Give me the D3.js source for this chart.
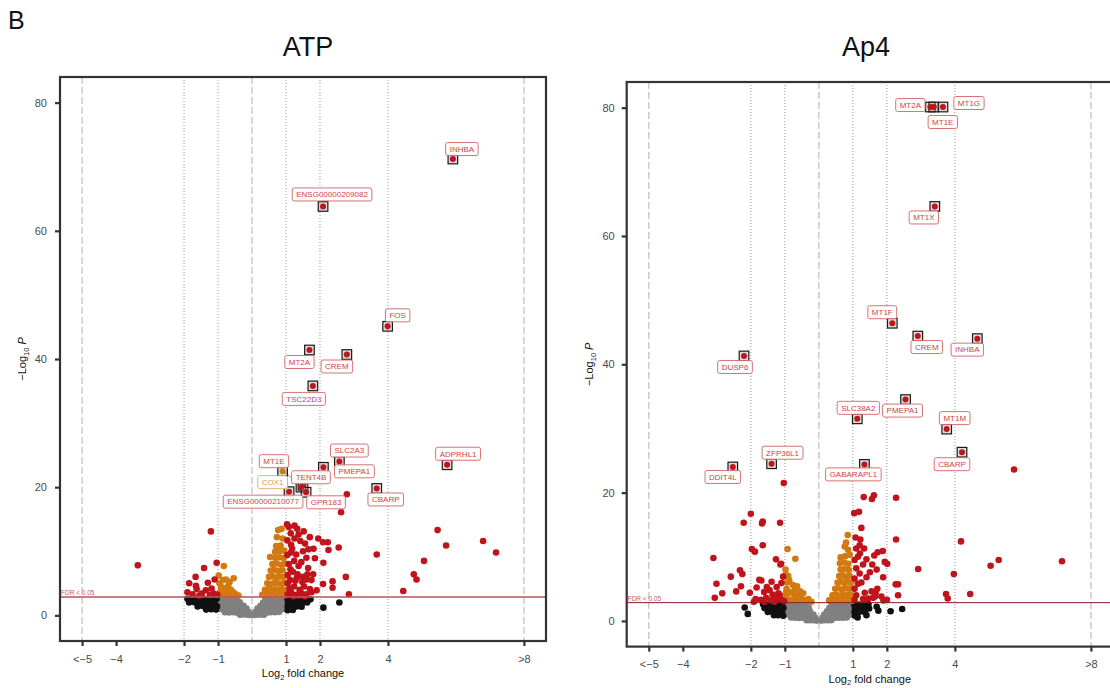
<!DOCTYPE html>
<html>
<head>
<meta charset="utf-8">
<script src="https://cdn.jsdelivr.net/npm/d3@7"></script>
<style>
  html, body { margin: 0; padding: 0; background: #fff; }
  svg { display: block; font-family: "Liberation Sans", Arial, Helvetica, sans-serif; }
</style>
</head>
<body>
<svg id="fig" width="1110" height="688"></svg>
<script>
// ---------- thresholds & axis ticks ----------
const fdrCutoff = 2.85;          // -log10 adjusted p at FDR 0.05
const fcCutoff = 1;              // |log2 FC|
const xTickValues = [-5, -4, -2, -1, 1, 2, 4, 8];
const xTickLabels = ["<\u22125", "\u22124", "\u22122", "\u22121", "1", "2", "4", ">8"];
const yTickValues = [0, 20, 40, 60, 80];
const xDomain = [-5.65, 8.65];
const yDomain = [-4, 84];

// ---------- ATP: unlabelled genes [log2FC, -log10 P] ----------
const atpPoints = [
  [-0.35,0.1],[-0.25,0.15],[-0.15,0.1],[-0.07,0.05],[0.07,0.05],[0.15,0.1],[0.25,0.12],[0.35,0.1],
  [-0.8,0.5],[-0.68,0.45],[-0.56,0.5],[-0.44,0.4],[-0.32,0.5],[-0.2,0.45],[-0.1,0.5],[0.1,0.5],[0.2,0.45],[0.32,0.5],[0.44,0.42],[0.56,0.5],[0.68,0.48],[0.8,0.55],
  [-0.97,1],[-0.85,0.95],[-0.72,1],[-0.6,1.05],[-0.48,1],[-0.36,0.95],[-0.24,1],[-0.16,1.05],[0.16,1.05],[0.24,1],[0.36,0.95],[0.48,1],[0.6,1.05],[0.72,1],[0.85,0.95],[0.97,1],
  [-0.97,1.5],[-0.85,1.55],[-0.72,1.5],[-0.6,1.45],[-0.48,1.5],[-0.36,1.55],[-0.25,1.5],[0.25,1.5],[0.36,1.45],[0.48,1.5],[0.6,1.55],[0.72,1.5],[0.85,1.45],[0.97,1.5],
  [-0.97,2],[-0.85,2.05],[-0.72,2],[-0.6,1.95],[-0.48,2],[-0.36,2.05],[0.33,2],[0.44,1.95],[0.56,2],[0.68,2.05],[0.8,2],[0.92,1.95],
  [-0.95,2.5],[-0.82,2.55],[-0.7,2.5],[-0.58,2.45],[-0.46,2.5],[0.4,2.5],[0.52,2.55],[0.64,2.5],[0.76,2.45],[0.88,2.5],[0.98,2.55],
  [-1.9,2.6],[-1.75,2.55],[-1.6,2.6],[-1.45,2.65],[-1.3,2.6],[-1.15,2.55],[-1.04,2.6],
  [-1.85,2.0],[-1.7,2.05],[-1.55,2.0],[-1.4,1.95],[-1.25,2.0],[-1.1,2.05],
  [-1.6,1.4],[-1.45,1.45],[-1.3,1.4],[-1.15,1.35],[-1.03,1.4],
  [-1.35,0.9],[-1.2,0.95],[-1.06,0.9],
  [1.04,2.6],[1.18,2.55],[1.32,2.6],[1.46,2.65],[1.6,2.6],[1.72,2.5],
  [1.06,2.0],[1.2,2.05],[1.34,2.0],[1.48,1.95],[1.62,2.0],
  [1.05,1.4],[1.18,1.45],[1.32,1.4],[1.46,1.35],
  [1.05,0.8],[1.2,0.85],[2.1,1.2],[2.57,2.0],
  [-0.83,7.7],[-0.77,5.6],[-0.54,5.8],[-0.96,5.0],[-0.9,4.4],[-0.8,4.2],[-0.7,4.6],[-0.62,4.0],[-0.55,3.6],[-0.48,3.3],
  [-0.95,3.4],[-0.85,3.2],[-0.75,3.5],[-0.68,3.2],[-0.6,3.1],[-0.92,3.9],[-0.66,5.2],[-0.72,3.9],[-0.4,3.1],[-0.85,5.5],[-0.98,6.2],
  [0.3,3.2],[0.4,3.15],[0.5,3.25],[0.6,3.2],[0.7,3.1],[0.8,3.25],[0.9,3.2],[0.97,3.15],
  [0.38,4],[0.48,4.1],[0.58,3.9],[0.68,4.05],[0.78,4],[0.88,4.1],[0.96,3.95],
  [0.45,5],[0.55,4.9],[0.65,5.1],[0.75,5],[0.85,4.95],[0.95,5.1],
  [0.5,6],[0.6,6.1],[0.7,5.9],[0.8,6.05],[0.92,6],
  [0.55,7],[0.66,7.1],[0.78,6.9],[0.9,7.05],
  [0.6,8],[0.72,8.1],[0.85,7.9],[0.96,8.05],
  [0.53,9.1],[0.68,9],[0.8,9.05],[0.93,8.95],
  [0.68,9.9],[0.82,10],[0.95,10.1],
  [0.71,10.8],[0.84,10.9],[0.73,12.2],[0.9,12],[0.77,13.3],[0.87,13.5],
  [1.03,14.2],[1.33,13.5],[1.52,13.1],[1.14,12.8],[1.37,12.6],[1.08,13.8],[1.25,14.0],
  [5.46,13.3],[5.71,10.9],[6.8,11.6],[7.18,9.8],[3.67,9.5],
  [2.09,11.4],[2.23,11.4],[2.55,10.6],[2.25,10.2],[1.56,11.2],[1.66,10.3],[1.81,10.4],
  [1.04,11.7],[1.18,10.4],[1.04,9.4],[1.6,9.0],[1.85,8.9],[1.24,8.5],[1.65,7.4],[1.37,7.7],[2.1,8.2],
  [1.13,7.2],[1.34,6.4],[1.63,6.4],[2.76,6.0],[4.76,6.4],[4.84,5.6],[5.06,8.5],[2.37,5.3],[2.37,4.3],
  [2.09,4.9],[1.53,4.5],[1.24,4.5],[2.85,3.3],[4.45,3.8],[1.12,5.5],
  [1.05,3.3],[1.15,3.6],[1.3,3.2],[1.45,3.5],[1.6,3.3],[1.75,3.6],[1.1,4.2],[1.4,4.0],[1.7,4.1],[1.9,3.9],
  [1.05,5.0],[1.28,5.4],[1.48,5.2],[1.75,5.5],[1.05,6.3],[1.2,6.8],[1.5,6.0],[1.8,6.4],[1.08,8.0],[1.45,8.3],
  [1.3,9.5],[1.5,10.0],[1.15,11.0],[2.79,18.9],[2.62,16.1],
  [1.22,3.0],[1.38,3.1],[1.55,3.0],[1.15,9.8],[1.25,12.0],[1.42,11.6],[1.7,12.2],[1.95,12.0],[1.32,5.9],[1.6,5.6],
  [-1.21,13.1],[-3.36,7.8],[-1.04,8.2],[-1.41,7.4],[-1.85,5.0],[-1.65,4.6],[-1.63,4.1],[-1.3,5.1],[-1.36,3.9],
  [-1.19,4.2],[-1.12,3.4],[-1.48,3.4],[-1.02,3.2],[-1.24,3.2],[-1.55,3.1],[-1.75,3.3],[-1.9,3.6],[-1.1,5.6],[-1.66,6.0]
];

// ---------- ATP: labelled genes ----------
const atpGenes = ["INHBA","ENSG00000209082","FOS","MT2A","CREM","TSC22D3","SLC2A3","PMEPA1",
                  "ADPRHL1","CBARP","COX1","MT1E","TENT4B","GPR183","ENSG00000210077"];
const atpGeneFC = [5.91, 2.09, 3.99, 1.69, 2.79, 1.79, 2.57, 2.10, 5.74, 3.67, 0.90, 1.44, 1.50, 1.59, 1.09];
const atpGeneP  = [71.2, 63.8, 45.1, 41.4, 40.7, 35.8, 24.0, 23.1, 23.5, 19.8, 22.5, 20.0, 20.3, 19.2, 19.3];

// ---------- Ap4: unlabelled genes ----------
const ap4Points = [
  [-0.36,0.1],[-0.26,0.12],[-0.16,0.1],[-0.07,0.05],[0.07,0.05],[0.16,0.1],[0.26,0.12],[0.36,0.1],
  [-0.82,0.55],[-0.7,0.5],[-0.58,0.45],[-0.46,0.5],[-0.34,0.45],[-0.22,0.5],[-0.11,0.5],[0.11,0.5],[0.22,0.45],[0.34,0.5],[0.46,0.45],[0.58,0.5],[0.7,0.5],[0.82,0.55],
  [-0.97,1],[-0.85,1.05],[-0.73,1],[-0.61,0.95],[-0.49,1],[-0.37,1.05],[-0.25,1],[-0.16,1],[0.16,1],[0.25,1.05],[0.37,1],[0.49,0.95],[0.61,1],[0.73,1.05],[0.85,1],[0.97,0.95],
  [-0.97,1.5],[-0.85,1.45],[-0.73,1.5],[-0.61,1.55],[-0.49,1.5],[-0.37,1.45],[-0.26,1.5],[0.24,1.5],[0.35,1.55],[0.47,1.5],[0.59,1.45],[0.71,1.5],[0.84,1.55],[0.96,1.5],
  [-0.97,2],[-0.86,1.95],[-0.74,2],[-0.62,2.05],[-0.5,2],[-0.38,1.95],[-0.3,2.1],[0.31,2],[0.42,2.05],[0.54,2],[0.66,1.95],[0.78,2],[0.9,2.05],
  [-0.96,2.5],[-0.84,2.45],[-0.72,2.5],[-0.6,2.55],[-0.48,2.5],[-0.38,2.55],[0.38,2.5],[0.5,2.45],[0.62,2.5],[0.74,2.55],[0.86,2.5],[0.97,2.45],
  [-1.64,2.6],[-1.5,2.55],[-1.36,2.6],[-1.22,2.65],[-1.08,2.6],
  [-1.6,2.0],[-1.46,2.05],[-1.32,2.0],[-1.18,1.95],[-1.04,2.0],
  [-1.5,1.4],[-1.36,1.45],[-1.22,1.4],[-1.08,1.35],[-1.2,0.9],[-1.05,0.8],
  [-2.18,2.1],[-2.09,1.1],[-1.32,0.9],
  [1.04,2.6],[1.18,2.55],[1.32,2.6],[1.46,2.65],
  [1.06,2.0],[1.2,2.05],[1.34,2.0],[1.48,1.95],
  [1.05,1.4],[1.2,1.45],[1.35,1.4],[1.06,0.8],[1.14,0.55],
  [1.7,2.2],[1.75,1.6],[2.11,1.5],[2.45,1.85],[1.4,0.9],
  [-0.92,11.2],[-0.69,9.7],[-0.98,8.0],[-0.97,7.2],[-0.87,6.3],[-0.76,5.6],[-0.64,5.4],[-0.46,4.3],[-0.31,3.4],
  [-0.95,5.0],[-0.85,4.5],[-0.75,4.2],[-0.6,4.0],[-0.52,3.5],[-0.22,3.0],[-0.95,3.8],[-0.88,3.3],[-0.78,3.2],
  [-0.68,3.4],[-0.58,3.2],[-0.42,3.2],[-0.97,4.4],[-0.9,7.0],[-0.55,4.6],[-0.93,6.0],[-0.7,4.9],
  [0.3,3.2],[0.4,3.1],[0.5,3.25],[0.6,3.2],[0.7,3.15],[0.8,3.2],[0.9,3.25],[0.97,3.1],
  [0.4,4],[0.5,4.1],[0.6,3.95],[0.7,4.05],[0.8,4],[0.9,4.1],[0.97,3.95],
  [0.48,5],[0.58,5.1],[0.68,4.9],[0.78,5.05],[0.88,5],[0.96,5.1],
  [0.55,6],[0.65,6.1],[0.75,5.9],[0.85,6.05],[0.95,6],
  [0.6,7],[0.7,7.1],[0.8,6.9],[0.9,7.05],
  [0.64,8],[0.76,8.1],[0.88,7.95],
  [0.62,9],[0.75,9.1],[0.87,8.9],
  [0.64,9.9],[0.78,10.1],[0.91,10.3],[0.76,11.6],[0.86,11.1],[0.8,12.2],[0.85,13.4],
  [5.74,23.6],[1.32,19.3],[1.62,19.6],[1.56,19.0],[2.27,19.2],[1.04,16.8],[1.18,17.0],[1.25,14.5],
  [1.22,12.7],[2.27,12.7],[4.18,12.4],[1.2,11.8],[1.33,11.3],[1.73,10.7],[1.63,10.2],[1.21,10.5],
  [1.94,9.2],[2.01,8.9],[2.92,8.1],[5.05,8.6],[5.29,9.5],[7.15,9.3],[3.97,7.3],[1.30,8.8],[1.57,8.8],
  [1.89,6.8],[2.26,5.7],[2.33,5.7],[2.33,4.0],[3.74,4.2],[3.79,3.5],[4.45,4.2],[1.72,5.0],
  [1.05,3.3],[1.1,4.0],[1.05,5.0],[1.15,5.8],[1.05,6.6],[1.2,7.4],[1.1,8.2],[1.05,9.5],[1.15,10.0],
  [1.3,3.4],[1.45,3.5],[1.6,3.6],[1.84,3.8],[1.65,3.8],[1.67,4.3],[1.35,4.4],[1.55,4.6],[1.25,6.0],
  [1.4,6.8],[1.5,7.6],[1.1,11.3],[1.08,13.0],[1.4,9.6],[1.9,3.2],[2.0,3.3],[1.7,8.0],[1.88,10.9],
  [-2.0,16.7],[-2.21,15.3],[-1.65,15.5],[-1.67,15.2],[-1.14,15.3],[-1.03,21.5],[-3.10,9.8],[-1.97,11.2],
  [-1.88,10.8],[-1.65,11.8],[-1.26,9.6],[-1.11,8.9],[-2.32,7.9],[-2.25,7.3],[-2.59,6.9],[-3.01,5.8],
  [-2.84,4.3],[-3.06,3.6],[-2.43,4.6],[-2.29,5.4],[-1.83,5.2],[-1.75,6.4],[-2.03,4.4],[-1.91,3.0],
  [-1.05,6.9],[-1.13,8.8],[-1.69,6.3],[-1.39,6.1],[-1.53,5.3],[-1.61,4.5],[-1.36,4.1],[-1.24,5.3],
  [-1.19,4.3],[-1.10,5.9],[-1.15,4.0],[-1.86,3.4],[-1.7,3.3],[-1.55,3.6],[-1.4,3.2],[-1.25,3.5],
  [-1.1,3.3],[-1.02,3.1],[-1.45,4.8],[-1.3,3.0],[-1.6,3.0]
];

// ---------- Ap4: labelled genes ----------
const ap4Genes = ["MT2A","MT1E","MT1G","MT1X","MT1F","CREM","INHBA","DUSP6","PMEPA1",
                  "SLC38A2","MT1M","CBARP","ZFP36L1","DDIT4L","GABARAPL1"];
const ap4GeneFC = [3.28, 3.38, 3.65, 3.41, 2.16, 2.91, 4.66, -2.20, 2.55, 1.13, 3.76, 4.21, -1.39, -2.53, 1.34];
const ap4GeneP  = [80.1, 80.1, 80.1, 64.6, 46.4, 44.4, 44.0, 41.3, 34.5, 31.5, 29.9, 26.3, 24.5, 24.0, 24.4];

// ---------- label placement (pixel offsets of each label box from its gene) ----------
const atpLabelOffsets = {
  "INHBA":[9,-10], "ENSG00000209082":[9,-12], "FOS":[10,-11], "MT2A":[-10,12], "CREM":[-10,12],
  "TSC22D3":[-9,13], "SLC2A3":[10,-11], "PMEPA1":[31,4], "ADPRHL1":[11,-11], "CBARP":[9,11],
  "COX1":[-10,11], "MT1E":[-27,-26], "TENT4B":[8,-8], "GPR183":[20,10], "ENSG00000210077":[-26,10]
};
const ap4LabelOffsets = {
  "MT2A":[-20,-2], "MT1E":[9,15], "MT1G":[26,-4], "MT1X":[-11,11], "MT1F":[-10,-11], "CREM":[9,11],
  "INHBA":[-10,11], "DUSP6":[-9,11], "PMEPA1":[-3,11], "SLC38A2":[1,-11], "MT1M":[8,-11],
  "CBARP":[-10,12], "ZFP36L1":[11,-11], "DDIT4L":[-10,10], "GABARAPL1":[-11,10]
};

// ---------- colours ----------
const colGray = "#808080", colBlack = "#111111", colOrange = "#d27a10", colRed = "#c0141c";

function category(fc, p) {
  const sig = p > fdrCutoff, big = Math.abs(fc) > fcCutoff;
  if (sig && big) return 3;
  if (sig) return 2;
  if (big) return 1;
  return 0;
}
const catColor = [colGray, colBlack, colOrange, colRed];
const dotR = 3.3;

const svg = d3.select("#fig");

// panel letter
svg.append("text").attr("x", 8).attr("y", 29)
  .attr("font-size", 25).attr("fill", "#111").text("B");

function drawPanel(cfg) {
  const x = d3.scaleLinear().domain(xDomain).range([cfg.left, cfg.right]);
  const y = d3.scaleLinear().domain(yDomain).range([cfg.bottom, cfg.top]);
  const g = svg.append("g");

  const clipId = "clip-" + cfg.id;
  svg.append("clipPath").attr("id", clipId).append("rect")
    .attr("x", cfg.left).attr("y", cfg.top)
    .attr("width", cfg.right - cfg.left).attr("height", cfg.bottom - cfg.top);

  const plot = g.append("g").attr("clip-path", `url(#${clipId})`);

  // vertical guides
  const longDash = [-5, 0, 8], dotted = [-2, -1, 1, 2, 4];
  plot.selectAll("line.ld").data(longDash).join("line")
    .attr("x1", d => x(d)).attr("x2", d => x(d))
    .attr("y1", cfg.top).attr("y2", cfg.bottom)
    .attr("stroke", "#c4c4c4").attr("stroke-width", 1.3).attr("stroke-dasharray", "7,3");
  plot.selectAll("line.dt").data(dotted).join("line")
    .attr("x1", d => x(d)).attr("x2", d => x(d))
    .attr("y1", cfg.top).attr("y2", cfg.bottom)
    .attr("stroke", "#9a9a9a").attr("stroke-width", 1).attr("stroke-dasharray", "1,2");

  // points, drawn gray -> black -> orange -> red
  const pts = cfg.points.map(d => ({ fc: d[0], p: d[1], c: category(d[0], d[1]) }))
    .sort((a, b) => a.c - b.c);
  plot.selectAll("circle.pt").data(pts).join("circle")
    .attr("cx", d => x(d.fc)).attr("cy", d => y(d.p)).attr("r", dotR)
    .attr("fill", d => catColor[d.c]);

  // FDR threshold
  plot.append("line")
    .attr("x1", cfg.left).attr("x2", cfg.right)
    .attr("y1", y(fdrCutoff)).attr("y2", y(fdrCutoff))
    .attr("stroke", cfg.fdrColor).attr("stroke-width", cfg.fdrWidth);
  plot.append("text").attr("x", cfg.left + 1).attr("y", y(fdrCutoff) - 2)
    .attr("font-size", 6.5).attr("fill", "#c05a64").text("FDR < 0.05");

  // labelled genes
  const genes = cfg.genes.map((name, i) => {
    const fc = cfg.fc[i], p = cfg.p[i];
    const off = cfg.offsets[name];
    return { name, fc, p, c: category(fc, p), px: x(fc), py: y(p), lx: x(fc) + off[0], ly: y(p) + off[1] };
  });
  const connectors = genes.filter(d => cfg.connectors.includes(d.name));
  plot.selectAll("line.con").data(connectors).join("line")
    .attr("x1", d => d.lx).attr("y1", d => d.ly).attr("x2", d => d.px).attr("y2", d => d.py)
    .attr("stroke", "#6f6f6f").attr("stroke-width", 0.8);

  plot.selectAll("rect.box").data(genes).join("rect")
    .attr("x", d => d.px - 4.8).attr("y", d => d.py - 4.8)
    .attr("width", 9.6).attr("height", 9.6)
    .attr("fill", "#9a9a9a").attr("fill-opacity", 0.35)
    .attr("stroke", "#1a1a1a").attr("stroke-width", 1.2);
  plot.selectAll("circle.gene").data(genes).join("circle")
    .attr("cx", d => d.px).attr("cy", d => d.py).attr("r", 3)
    .attr("fill", d => catColor[d.c]);

  const lab = plot.selectAll("g.lab").data(genes).join("g")
    .attr("transform", d => `translate(${d.lx},${d.ly})`);
  const labRect = lab.append("rect");
  const labText = lab.append("text")
    .attr("text-anchor", "middle").attr("dy", "0.35em")
    .attr("font-size", 8)
    .attr("fill", d => d.c === 2 ? "#dd9a45" : "#cc4545")
    .text(d => d.name);
  labText.each(function(d) { d.tw = this.getComputedTextLength(); });
  labRect
    .attr("x", d => -d.tw / 2 - 4).attr("y", -6.5)
    .attr("width", d => d.tw + 8).attr("height", 13)
    .attr("rx", 2).attr("ry", 2)
    .attr("fill", "#fff").attr("fill-opacity", 0.92)
    .attr("stroke", d => d.c === 2 ? "#e3a95c" : "#d46262").attr("stroke-width", 0.9);

  // frame
  g.append("rect")
    .attr("x", cfg.left).attr("y", cfg.top)
    .attr("width", cfg.right - cfg.left).attr("height", cfg.bottom - cfg.top)
    .attr("fill", "none").attr("stroke", "#333").attr("stroke-width", 2.2);

  // axes
  const yAxis = g.append("g").attr("transform", `translate(${cfg.left},0)`)
    .call(d3.axisLeft(y).tickValues(yTickValues).tickSize(5).tickPadding(cfg.yPad));
  const xAxis = g.append("g").attr("transform", `translate(0,${cfg.bottom})`)
    .call(d3.axisBottom(x).tickValues(xTickValues).tickSize(5).tickPadding(9)
      .tickFormat((d, i) => xTickLabels[i]));
  [yAxis, xAxis].forEach(a => {
    a.select(".domain").remove();
    a.selectAll(".tick line").attr("stroke", "#333").attr("stroke-width", 2.2);
    a.selectAll(".tick text").attr("fill", "#4a4a4a").attr("font-size", 11)
      .attr("font-family", "Liberation Sans, Arial, sans-serif");
  });

  // title
  g.append("text").attr("x", cfg.titleX).attr("y", cfg.titleY)
    .attr("text-anchor", "middle").attr("font-size", 27).attr("fill", "#111").text(cfg.title);

  // x-axis title
  const xt = g.append("text").attr("x", (cfg.left + cfg.right) / 2).attr("y", cfg.bottom + 36)
    .attr("text-anchor", "middle").attr("font-size", 11).attr("fill", "#111");
  xt.append("tspan").text("Log");
  xt.append("tspan").attr("font-size", 7.5).attr("dy", 2.5).text("2");
  xt.append("tspan").attr("dy", -2.5).text(" fold change");

  // y-axis title
  const yt = g.append("text")
    .attr("transform", `translate(${cfg.yTitleX},${(cfg.top + cfg.bottom) / 2}) rotate(-90)`)
    .attr("text-anchor", "middle").attr("font-size", 11).attr("fill", "#111");
  yt.append("tspan").text("\u2212Log");
  yt.append("tspan").attr("font-size", 7.5).attr("dy", 3).text("10");
  yt.append("tspan").attr("dy", -3).text(" ");
  yt.append("tspan").attr("font-style", "italic").text("P");
}

drawPanel({
  id: "atp", title: "ATP", titleX: 308, titleY: 56,
  left: 60, right: 546, top: 77, bottom: 641, yPad: 8, yTitleX: 26,
  points: atpPoints, genes: atpGenes, fc: atpGeneFC, p: atpGeneP,
  offsets: atpLabelOffsets, connectors: ["MT1E"],
  fdrColor: "#b9545c", fdrWidth: 1.5
});

drawPanel({
  id: "ap4", title: "Ap4", titleX: 866, titleY: 56,
  left: 626.7, right: 1113, top: 82, bottom: 646.6, yPad: 7, yTitleX: 593,
  points: ap4Points, genes: ap4Genes, fc: ap4GeneFC, p: ap4GeneP,
  offsets: ap4LabelOffsets, connectors: [],
  fdrColor: "#8e1a1e", fdrWidth: 1
});
</script>
</body>
</html>
